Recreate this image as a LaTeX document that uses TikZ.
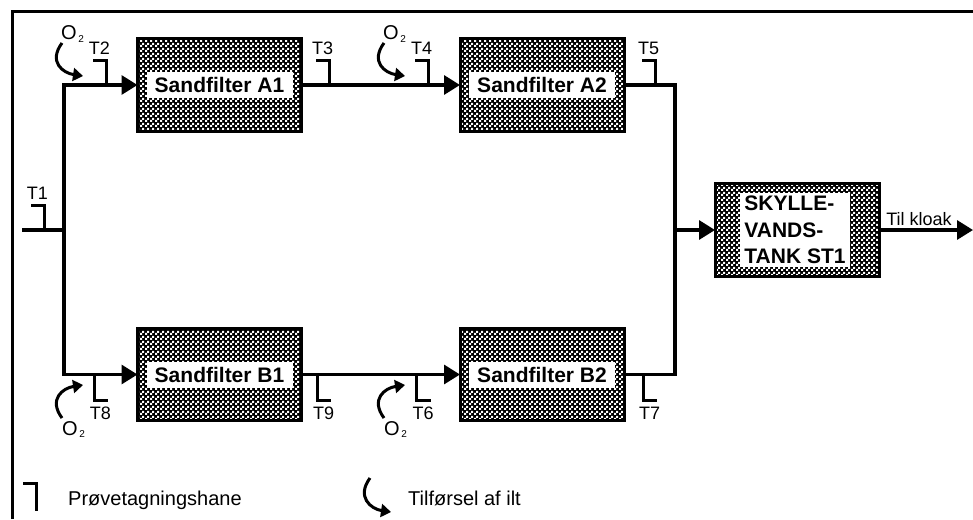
\documentclass[tikz,border=0pt]{standalone}
\usepackage{fontspec}
\setmainfont{Liberation Sans}
\usetikzlibrary{arrows.meta,patterns}
\pgfdeclarepatternformonly{filtercheck}{\pgfqpoint{0pt}{0pt}}{\pgfqpoint{4.5pt}{4.5pt}}{\pgfqpoint{4.5pt}{4.5pt}}{
\pgfpathrectangle{\pgfqpoint{0.03pt}{0.03pt}}{\pgfqpoint{2.2pt}{2.2pt}}
\pgfpathrectangle{\pgfqpoint{2.28pt}{2.28pt}}{\pgfqpoint{2.2pt}{2.2pt}}
\pgfusepath{fill}
}
\newcommand{\oxygen}{O\hspace{1.5pt}\raisebox{-2pt}{\fontsize{10}{10}\selectfont 2}}
\tikzset{
filterbox/.style={draw, line width=3pt, preaction={fill=black}, pattern=filtercheck, pattern color=white, minimum width=164pt, minimum height=92.5pt, outer sep=0pt},
filterlabel/.style={fill=white, font=\fontsize{21}{26.7}\selectfont\bfseries, minimum width=146pt, minimum height=26pt, inner sep=0pt},
pipe/.style={line width=3.2pt},
flow/.style={pipe, -{Triangle[length=16pt,width=19pt]}},
tap/.style={line width=3pt},
oxygenflow/.style={line width=3pt, -{Triangle[length=10pt,width=13pt]}},
taplabel/.style={font=\fontsize{18}{18}\selectfont, inner sep=0pt, anchor=base},
oxygenlabel/.style={font=\fontsize{20}{20}\selectfont, inner sep=0pt, anchor=base west},
legendlabel/.style={font=\fontsize{20}{20}\selectfont, inner sep=0pt, anchor=base west}
}
\begin{document}
\begin{tikzpicture}
\useasboundingbox (0pt, 0pt) rectangle (973pt, -519pt);
\coordinate (framebottom) at (12.2pt, -519pt);
\coordinate (framecorner) at (12.2pt, -11.2pt);
\coordinate (frameright) at (973pt, -11.2pt);
\draw[line width=3pt] (framebottom) -- (framecorner) -- (frameright);
\node[filterbox] (a1) at (219.5pt, -85pt) {};
\node[filterbox] (a2) at (542pt, -85pt) {};
\node[filterbox] (b1) at (219.5pt, -374.5pt) {};
\node[filterbox] (b2) at (542pt, -374.5pt) {};
\node[filterbox] (st1) at (797pt, -230pt) {};
\node[filterlabel] (a1label) at (a1) {Sandfilter A1};
\node[filterlabel] (a2label) at (a2) {Sandfilter A2};
\node[filterlabel] (b1label) at (b1) {Sandfilter B1};
\node[filterlabel] (b2label) at (b2) {Sandfilter B2};
\node[filterlabel, align=left, minimum width=110pt, minimum height=74pt] (st1label) at (795pt, -230pt) {SKYLLE-\\VANDS-\\TANK ST1};
\coordinate (inlet) at (22pt, -230pt);
\coordinate (split) at (64pt, -230pt);
\coordinate (merge) at (675pt, -230pt);
\coordinate (sewer) at (973pt, -230pt);
\draw[pipe] (inlet) -- (split);
\draw[flow] (split) |- (a1);
\draw[flow] (split) |- (b1);
\draw[flow] (a1) -- (a2);
\draw[flow] (b1) -- (b2);
\draw[pipe] (a2) -| (merge);
\draw[pipe] (b2) -| (merge);
\draw[flow] (merge) -- (st1);
\draw[flow] (st1) -- (sewer);
\node[font=\fontsize{18}{18}\selectfont, inner sep=0pt, anchor=base] (sewerlabel) at (919pt, -225pt) {Til kloak};
\foreach \tapname/\tapx/\tapy in {T1/44/230, T2/106/85, T3/329/85, T4/428/85, T5/655/85} {
\coordinate (\tapname) at (\tapx pt, -\tapy pt);
\draw[tap] (\tapname) -- ++(0pt, 25pt) -- ++(-13pt, 0pt);
\node[taplabel] (label\tapname) at ([shift={(-6.5pt, 31pt)}]\tapname) {\tapname};
}
\foreach \tapname/\tapx/\tapy in {T8/94/375, T9/317/375, T6/416.5/375, T7/643/375} {
\coordinate (\tapname) at (\tapx pt, -\tapy pt);
\draw[tap] (\tapname) -- ++(0pt, -25pt) -- ++(14pt, 0pt);
\node[taplabel] (label\tapname) at ([shift={(6.5pt, -44pt)}]\tapname) {\tapname};
}
\foreach \oxname/\oxx in {a1/0, a2/322} {
\coordinate (ox\oxname start) at (\oxx pt + 62pt, -43pt);
\coordinate (ox\oxname end) at (\oxx pt + 83pt, -76pt);
\draw[oxygenflow] (ox\oxname start) .. controls +(-14pt, -19pt) and +(-20pt, 3pt) .. (ox\oxname end);
\node[oxygenlabel] (ox\oxname label) at (\oxx pt + 61pt, -40pt) {\oxygen};
}
\foreach \oxname/\oxx in {b1/0, b2/322} {
\coordinate (ox\oxname start) at (\oxx pt + 62pt, -418pt);
\coordinate (ox\oxname end) at (\oxx pt + 83pt, -385pt);
\draw[oxygenflow] (ox\oxname start) .. controls +(-14pt, 19pt) and +(-20pt, -3pt) .. (ox\oxname end);
\node[oxygenlabel] (ox\oxname label) at (\oxx pt + 62pt, -435pt) {\oxygen};
}
\coordinate (legendtapa) at (23pt, -483pt);
\coordinate (legendtapb) at (36pt, -483pt);
\coordinate (legendtapc) at (36pt, -511pt);
\draw[tap] (legendtapa) -- (legendtapb) -- (legendtapc);
\node[legendlabel] (legendtap) at (68pt, -505pt) {Prøvetagningshane};
\coordinate (legendoxa) at (370pt, -478pt);
\coordinate (legendoxb) at (391pt, -512pt);
\draw[oxygenflow] (legendoxa) .. controls +(-14pt, -19pt) and +(-20pt, 3pt) .. (legendoxb);
\node[legendlabel] (legendox) at (408pt, -505pt) {Tilførsel af ilt};
\end{tikzpicture}
\end{document}
